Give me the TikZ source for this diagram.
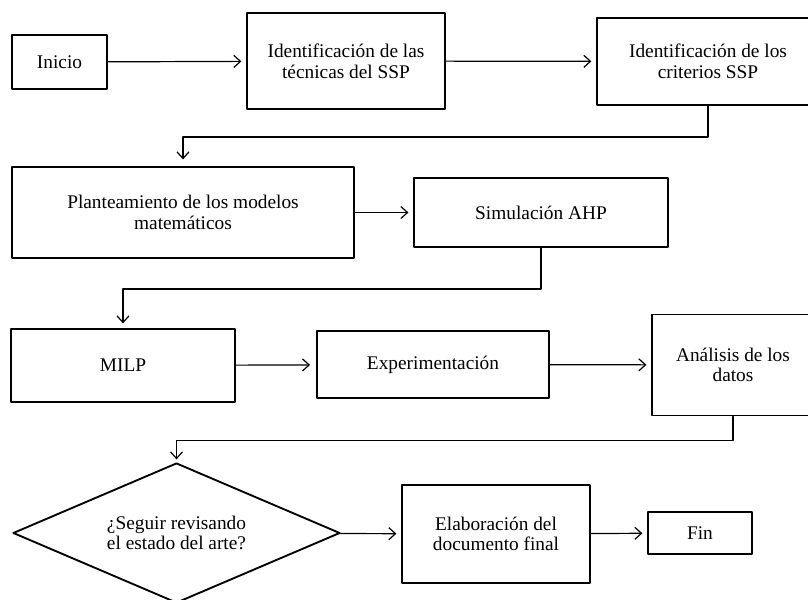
\documentclass[tikz,border=0pt]{standalone}
\usepackage{fontspec}
\setmainfont{Liberation Serif}
\usetikzlibrary{arrows.meta,shapes.geometric}
\tikzset{
  paso/.style={draw,line width=1.4pt,rectangle,inner sep=2pt,align=center,
    font=\fontsize{14.5}{15.5}\selectfont},
  conn/.style={->,line width=0.9pt,shorten >=3.5pt},
}

\begin{document}
\begin{tikzpicture}[line cap=round,line join=round,>={Straight Barb[length=5pt,width=9pt]},x=0.75pt,y=-0.75pt]
\useasboundingbox (0,0) rectangle (808,600);
\clip (0,0) rectangle (808,600);
% fila 1
\node[paso,minimum width=71.25pt,minimum height=40.5pt] (inicio) at (59.5,62) {Inicio};
\node[paso,minimum width=148.5pt,minimum height=72pt] (tecnicas) at (346,61) {Identificación de las\\técnicas del SSP};
\node[paso,minimum width=166.5pt,minimum height=65.25pt] (criterios) at (708,61.5) {Identificación de los\\criterios SSP};
% fila 2
\node[paso,minimum width=256.5pt,minimum height=68.25pt] (planteamiento) at (183,212.5) {Planteamiento de los modelos\\matemáticos};
\node[paso,minimum width=190.5pt,minimum height=51.75pt] (simulacion) at (541,212.5) {Simulación AHP};
% fila 3
\node[paso,minimum width=168pt,minimum height=54.75pt] (milp) at (123,365.5) {MILP};
\node[paso,minimum width=174pt,minimum height=50.25pt] (experimentacion) at (433,364.5) {Experimentación};
\node[paso,minimum width=121.5pt,minimum height=75.75pt] (analisis) at (733,365) {Análisis de los\\datos};
% fila 4
\node[paso,diamond,aspect=2.34,inner sep=0pt,minimum width=245.25pt,minimum height=105pt] (decision) at (176.5,533) {¿Seguir revisando\\el estado del arte?};
\node[paso,minimum width=141pt,minimum height=73.5pt] (elaboracion) at (496,534) {Elaboración del\\documento final};
\node[paso,minimum width=78pt,minimum height=31.5pt] (fin) at (700,533) {Fin};

\draw[conn] (inicio) -- (tecnicas);
\draw[conn] (tecnicas) -- (criterios);
\draw[conn,shorten >=5pt] (criterios.south) -- ++(0,31) -| (planteamiento.north);
\draw[conn] (planteamiento) -- (simulacion);
\draw[conn] (simulacion.south) -- ++(0,41) -| (milp.north);
\draw[conn,shorten >=4.5pt] (milp) -- (experimentacion);
\draw[conn] (experimentacion) -- (analisis);
\draw[conn,shorten >=2pt] (analisis.south) -- ++(0,24) -| (decision.north);
\draw[conn] (decision) -- (elaboracion);
\draw[conn] (elaboracion) -- (fin);
\end{tikzpicture}
\end{document}
